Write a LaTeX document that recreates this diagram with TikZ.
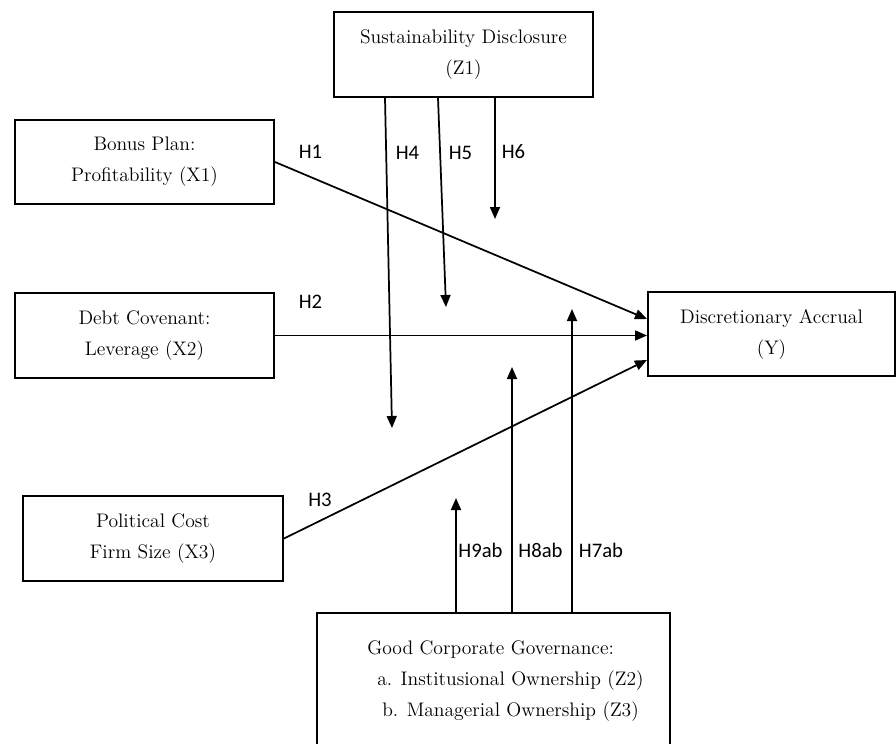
\documentclass[tikz,border=0pt]{standalone}
\usepackage{fontspec}
\newfontfamily\hypfont{Carlito}
\usetikzlibrary{arrows.meta,calc}
\begin{document}
\begin{tikzpicture}[x=0.75pt,y=-0.75pt]
	\tikzstyle{every node} = [font=\fontsize{14.7}{23.25}\selectfont]
	\tikzstyle{box} = [draw, line width=1.5pt, align=center, inner sep=0pt]
	\tikzstyle{link} = [line width=1.3pt, -{Triangle[length=9pt,width=7.5pt]}]
	\tikzstyle{hyp} = [font=\hypfont\fontsize{15.5}{18}\selectfont, inner sep=0pt]
	\clip (0,0) rectangle (896,743);
	% variables
	\node[box, minimum width=194.25pt, minimum height=63.75pt] (z1) at (463.5,54.5) {Sustainability Disclosure\\(Z1)};
	\node[box, minimum width=194.25pt, minimum height=63pt] (x1) at (144.5,162) {Bonus Plan:\\Profitability (X1)};
	\node[box, minimum width=194.25pt, minimum height=63.75pt] (x2) at (144.5,335.5) {Debt Covenant:\\Leverage (X2)};
	\node[box, minimum width=195pt, minimum height=63.75pt] (x3) at (153,538.5) {Political Cost\\Firm Size (X3)};
	\node[box, minimum width=185.25pt, minimum height=63pt] (y) at (771.5,334) {Discretionary Accrual\\(Y)};
	\node[box, minimum width=264.75pt, minimum height=102pt] (gcg) at (493.5,681) {};
	\node[align=left, anchor=west, inner sep=0pt] (gcgtext) at (367,681) {Good Corporate Governance:\\\hspace*{7.5pt}a. Institusional Ownership (Z2)\\\hspace*{11.25pt}b. Managerial Ownership (Z3)};
	% free ends of the moderating arrows
	\coordinate (h4end) at (392,428);
	\coordinate (h5end) at (446,307);
	\coordinate (h6end) at (495,219);
	\coordinate (h7end) at (572,309);
	\coordinate (h8end) at (512,367);
	\coordinate (h9end) at (456,498);
	% direct effects
	\draw[link] (x1.east) -- ($(y.west)+(0,-15)$);
	\draw[link] (x2.east) -- (x2.east -| y.west);
	\draw[link] (x3.east) -- ($(y.west)+(0,26)$);
	% moderation
	\draw[link] ($(z1.south west)+(52,0)$) -- (h4end);
	\draw[link] ($(z1.south west)+(105,0)$) -- (h5end);
	\draw[link] (z1.south -| h6end) -- (h6end);
	\draw[link] (gcg.north -| h7end) -- (h7end);
	\draw[link] (gcg.north -| h8end) -- (h8end);
	\draw[link] (gcg.north -| h9end) -- (h9end);
	% hypotheses
	\node[hyp] (lh1) at (310.5,151.5) {H1};
	\node[hyp] (lh2) at (310.5,301.5) {H2};
	\node[hyp] (lh3) at (320,500) {H3};
	\node[hyp] (lh4) at (407.5,153) {H4};
	\node[hyp] (lh5) at (460.5,153) {H5};
	\node[hyp] (lh6) at (513.5,152) {H6};
	\node[hyp] (lh7) at (601,550) {H7ab};
	\node[hyp] (lh8) at (540.5,550) {H8ab};
	\node[hyp] (lh9) at (480.5,550) {H9ab};
\end{tikzpicture}
\end{document}
